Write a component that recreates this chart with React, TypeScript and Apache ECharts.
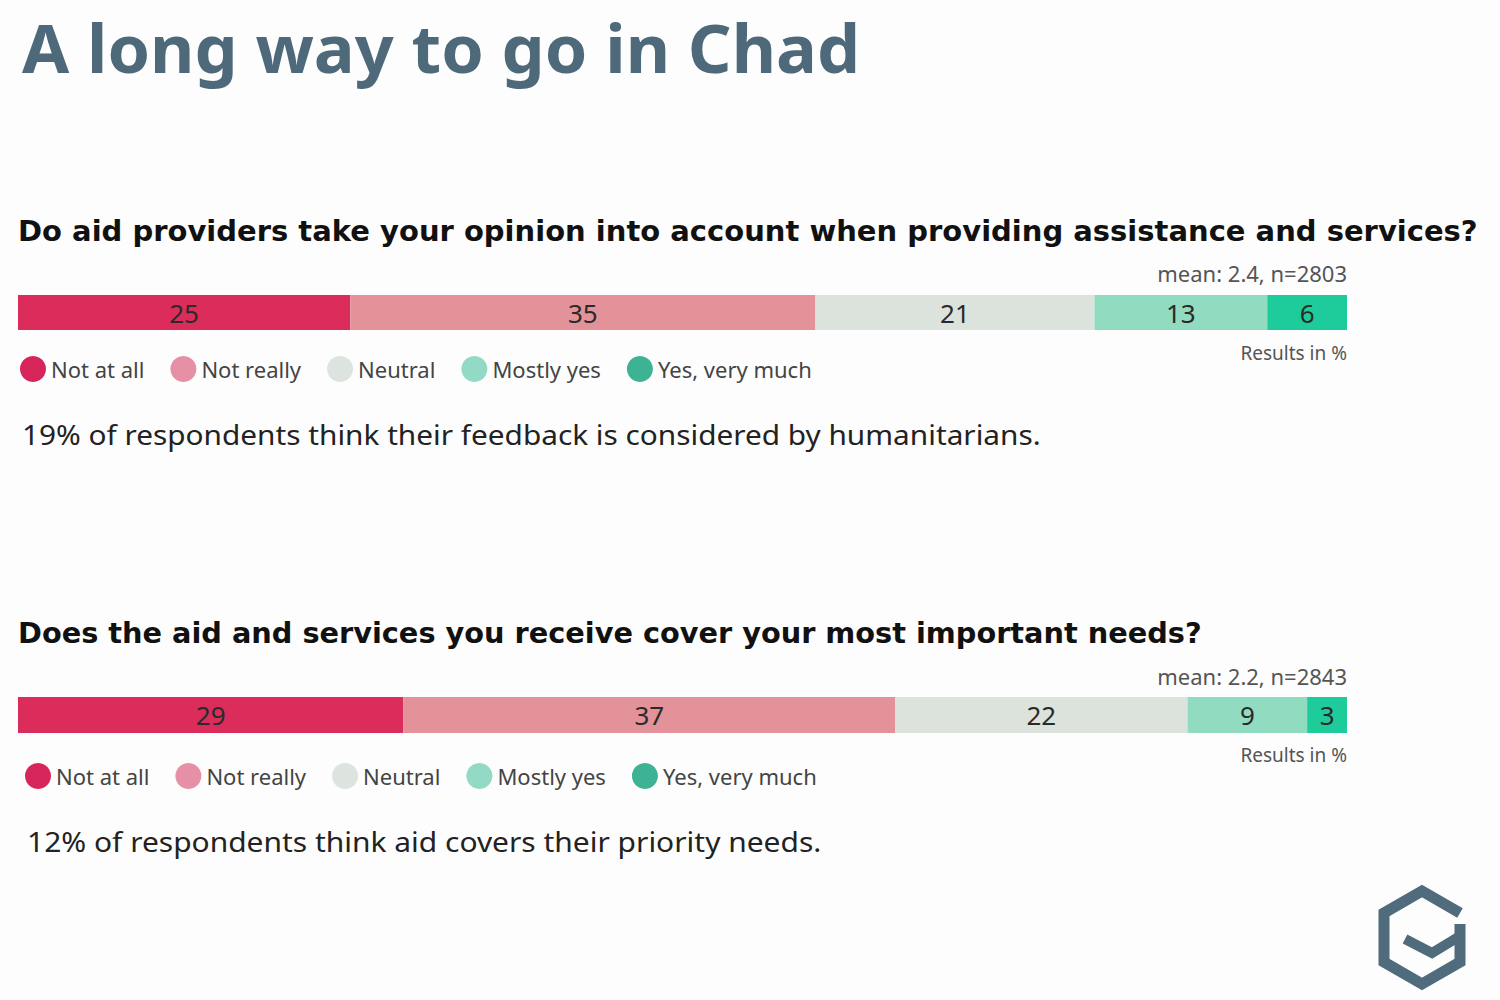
import React, { useEffect, useRef } from "react";
import * as echarts from "echarts";

const categories = ["Not at all", "Not really", "Neutral", "Mostly yes", "Yes, very much"];
const q1Values = [25, 35, 21, 13, 6];
const q2Values = [29, 37, 22, 9, 3];
const barColors = ["#dc2c5c", "#e3929a", "#dbe3dc", "#91dcc0", "#1ecb9b"];
const legendColors = ["#d6255a", "#e690a6", "#dde3de", "#92d9c6", "#3db394"];
const titleText = "A long way to go in Chad";
const q1Title = "Do aid providers take your opinion into account when providing assistance and services?";
const q2Title = "Does the aid and services you receive cover your most important needs?";
const q1Meta = "mean: 2.4, n=2803";
const q2Meta = "mean: 2.2, n=2843";
const resultsNote = "Results in %";
const q1Summary = "19% of respondents think their feedback is considered by humanitarians.";
const q2Summary = "12% of respondents think aid covers their priority needs.";

const FONT = "'Noto Sans', sans-serif";
const QFONT = "'DejaVu Sans', sans-serif";

export default function App() {
  const ref = useRef<HTMLDivElement>(null);
  useEffect(() => {
    document.body.style.margin = "0";
    const chart = echarts.init(ref.current!, null, { renderer: "svg" });
    const grids = [
      { left: 18, width: 1329, top: 295, height: 35 },
      { left: 18, width: 1329, top: 697, height: 36 },
    ];
    const series: any[] = [];
    [q1Values, q2Values].forEach((vals, gi) => {
      categories.forEach((name, i) => {
        series.push({
          type: "bar",
          name,
          stack: "s" + gi,
          xAxisIndex: gi,
          yAxisIndex: gi,
          barWidth: "100%",
          data: [vals[i]],
          itemStyle: { color: barColors[i] },
          label: {
            show: true,
            position: "inside",
            fontSize: 26,
            fontFamily: FONT,
            color: "#2a2a2a",
          },
          emphasis: { disabled: true },
        });
      });
    });
    const legendData = categories.map((name, i) => ({
      name,
      itemStyle: { color: legendColors[i] },
    }));
    const legendBase = {
      orient: "horizontal",
      icon: "circle",
      itemWidth: 26,
      itemHeight: 26,
      itemGap: 26,
      padding: 0,
      selectedMode: false,
      textStyle: { fontSize: 22, fontFamily: FONT, color: "#444" },
      data: legendData,
    };
    const text = (x: number, y: number, t: string, size: number, opts: any = {}) => ({
      type: "text",
      x,
      y,
      scaleX: opts.scaleX || 1,
      style: {
        text: t,
        fontSize: size,
        fontFamily: opts.font || FONT,
        fill: opts.fill || "#1a1a1a",
        fontWeight: opts.weight || "normal",
        align: opts.align || "left",
        verticalAlign: "middle",
      },
    });
    const logoColor = "#4f6b7c";
    chart.setOption({
      animation: false,
      backgroundColor: "#fdfdfd",
      grid: grids,
      xAxis: grids.map((_, gi) => ({
        type: "value",
        gridIndex: gi,
        min: 0,
        max: 100,
        show: false,
      })),
      yAxis: grids.map((_, gi) => ({
        type: "category",
        gridIndex: gi,
        data: ["q" + gi],
        show: false,
      })),
      legend: [
        { ...legendBase, left: 20, top: 356 },
        { ...legendBase, left: 25, top: 763 },
      ],
      series,
      graphic: [
        text(22, 47, titleText, 66, { weight: "bold", fill: "#4e6a7a", scaleX: 1.035 }),
        text(18, 232, q1Title, 28, { weight: "bold", fill: "#111", font: QFONT, scaleX: 1.036 }),
        text(1347, 273, q1Meta, 22, { align: "right", fill: "#555" }),
        text(1347, 353, resultsNote, 19, { align: "right", fill: "#555" }),
        text(22, 434, q1Summary, 28, { fill: "#222", scaleX: 1.064 }),
        text(18, 634, q2Title, 28, { weight: "bold", fill: "#111", font: QFONT, scaleX: 1.028 }),
        text(1347, 676, q2Meta, 22, { align: "right", fill: "#555" }),
        text(1347, 755, resultsNote, 19, { align: "right", fill: "#555" }),
        text(27, 841, q2Summary, 28, { fill: "#222", scaleX: 1.07 }),
        {
          type: "polyline",
          shape: {
            points: [
              [1460, 913],
              [1422, 891],
              [1384, 913],
              [1384, 962],
              [1422, 984],
              [1460, 962],
              [1460, 924],
            ],
          },
          style: { stroke: logoColor, lineWidth: 11, fill: null, lineJoin: "miter" },
        },
        {
          type: "polyline",
          shape: {
            points: [
              [1460, 936],
              [1432, 953],
              [1405, 939],
            ],
          },
          style: { stroke: logoColor, lineWidth: 10, fill: null, lineJoin: "miter" },
        },
      ],
    });
    return () => chart.dispose();
  }, []);
  return <div ref={ref} style={{ width: 1500, height: 1000 }} />;
}
